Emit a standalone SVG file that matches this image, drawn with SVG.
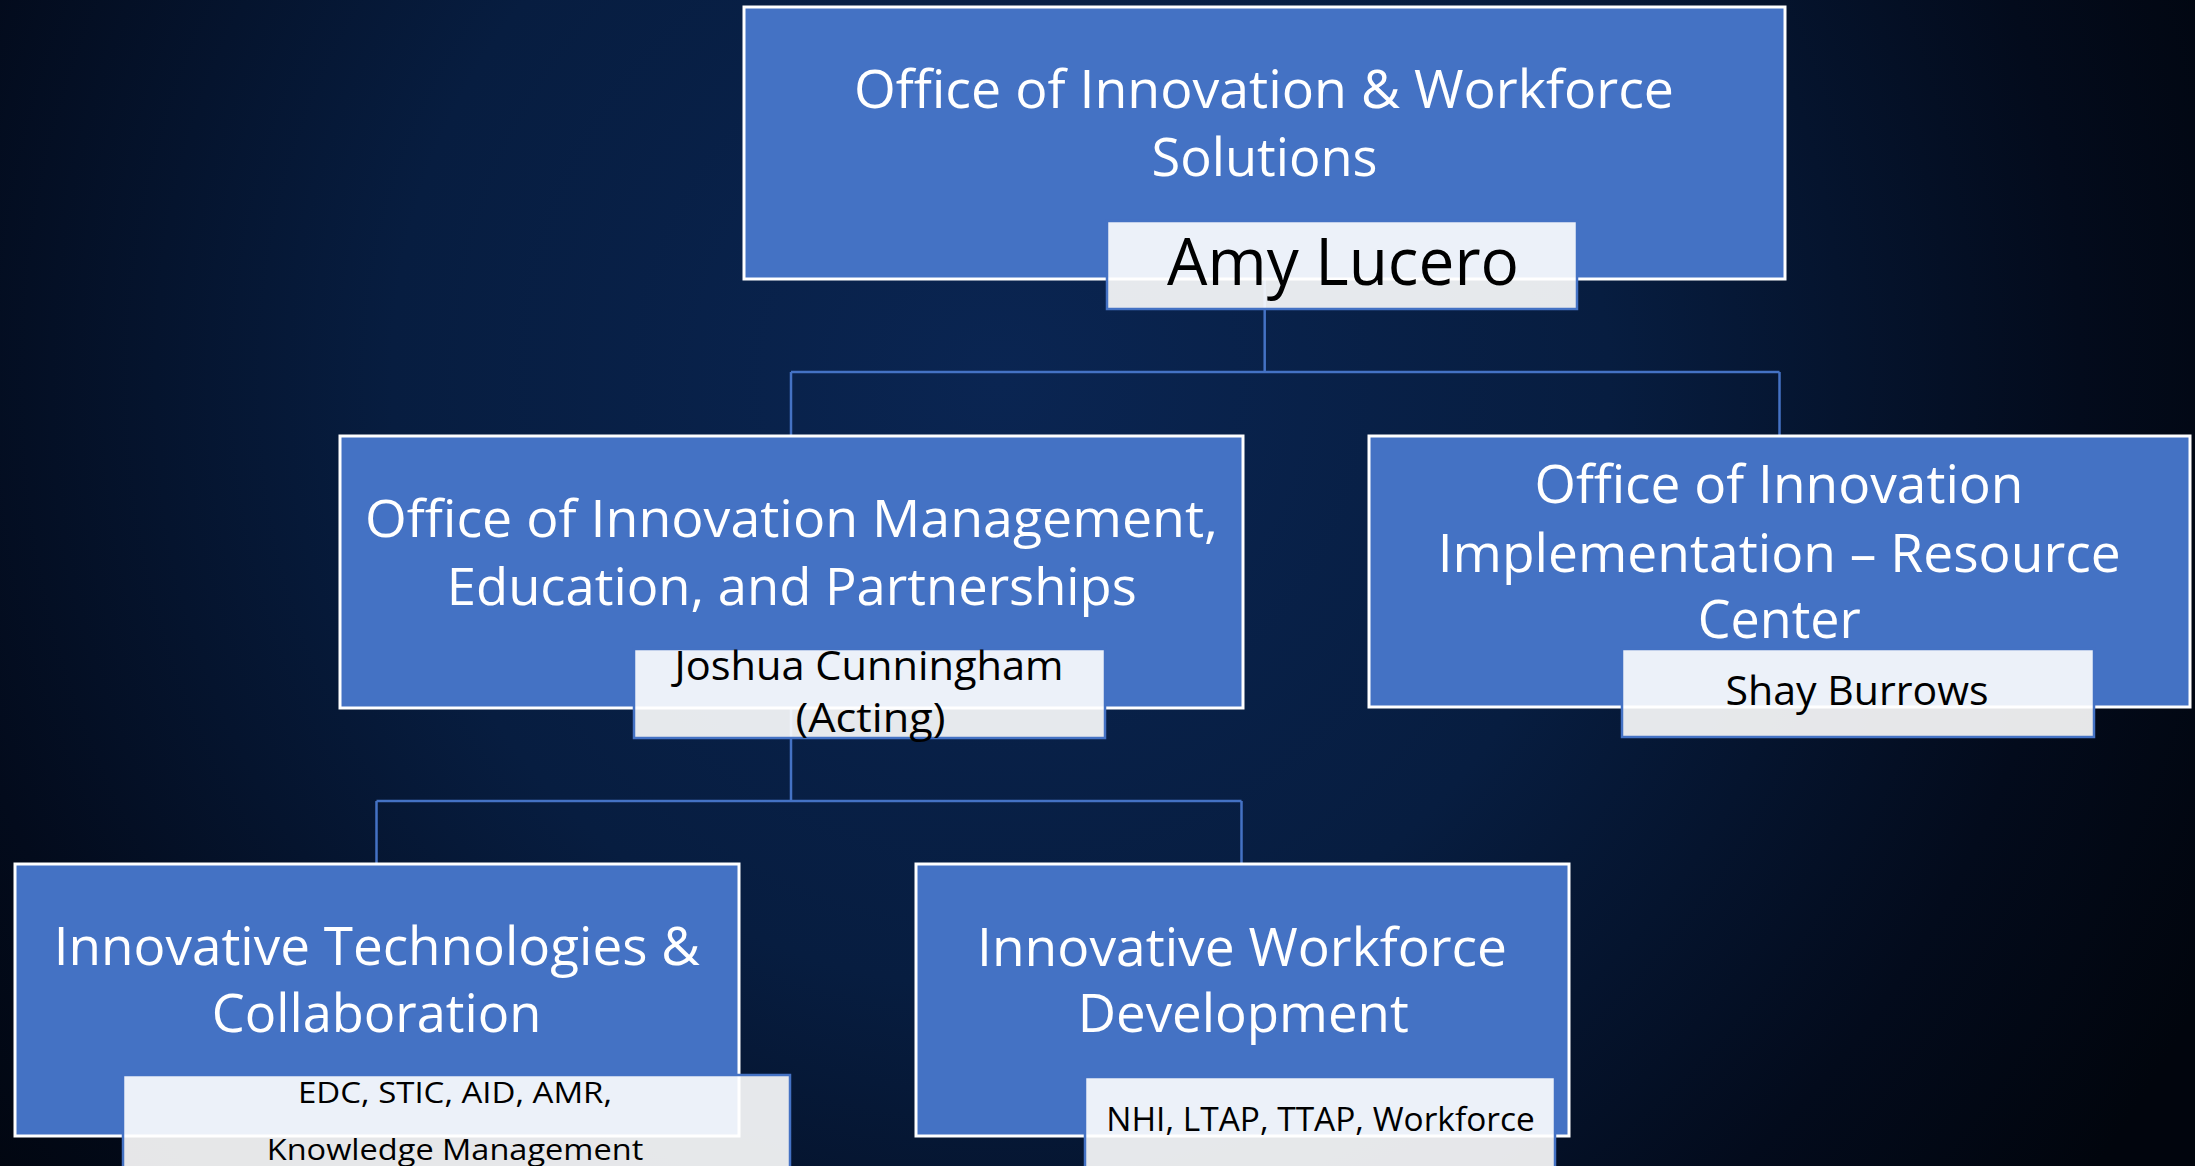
<svg xmlns="http://www.w3.org/2000/svg" width="2195" height="1166" viewBox="0 0 2195 1166">
<defs>
<radialGradient id="bg" cx="1000" cy="380" r="1350" gradientUnits="userSpaceOnUse">
<stop offset="0" stop-color="#0a2552"/>
<stop offset="0.45" stop-color="#071d40"/>
<stop offset="0.8" stop-color="#030b1c"/>
<stop offset="1" stop-color="#01050d"/>
</radialGradient>
<style>
.box{fill:#4472C4;stroke:#ffffff;stroke-width:3}
.lbl{fill:#ffffff;fill-opacity:0.9;stroke:#4472C4;stroke-width:2.5}
.t{font-family:"Open Sans","Noto Sans","Liberation Sans",sans-serif;fill:#ffffff;text-anchor:middle}
.n{font-family:"Open Sans","Noto Sans","Liberation Sans",sans-serif;fill:#000000;text-anchor:middle}
.con{fill:none;stroke:#4472C4;stroke-width:2.5}
</style>
</defs>
<rect x="0" y="0" width="2195" height="1166" fill="url(#bg)"/>
<g id="connectors">
<path class="con" d="M1264.7 279 V372 M791 372 H1779.5 M791 372 V436 M1779.5 372 V436"/>
<path class="con" d="M791 708 V801 M376.5 801 H1241.5 M376.5 801 V864 M1241.5 801 V864"/>
</g>
<g id="node-top">
<rect class="box" x="744" y="7" width="1041" height="272"/>
<text class="t" font-size="53" x="1264" y="108" textLength="820" lengthAdjust="spacingAndGlyphs">Office of Innovation &amp; Workforce</text>
<text class="t" font-size="53" x="1264.5" y="176" textLength="226" lengthAdjust="spacingAndGlyphs">Solutions</text>
<rect class="lbl" x="1107" y="221" width="470" height="88"/>
<text class="n" font-size="66" x="1343" y="285" textLength="352" lengthAdjust="spacingAndGlyphs">Amy Lucero</text>
</g>
<g id="node-mid-left">
<rect class="box" x="340" y="436" width="903" height="272"/>
<text class="t" font-size="51" x="791.5" y="537" textLength="853" lengthAdjust="spacingAndGlyphs">Office of Innovation Management,</text>
<text class="t" font-size="51" x="791.8" y="605" textLength="690" lengthAdjust="spacingAndGlyphs">Education, and Partnerships</text>
<rect class="lbl" x="634" y="649" width="471" height="89"/>
<text class="n" font-size="39.5" x="869" y="680" textLength="389" lengthAdjust="spacingAndGlyphs">Joshua Cunningham</text>
<text class="n" font-size="39.5" x="870.5" y="731.7" textLength="150" lengthAdjust="spacingAndGlyphs">(Acting)</text>
</g>
<g id="node-mid-right">
<rect class="box" x="1369" y="436" width="821" height="271"/>
<text class="t" font-size="53" x="1779" y="503.3" textLength="489" lengthAdjust="spacingAndGlyphs">Office of Innovation</text>
<text class="t" font-size="53" x="1779.2" y="571.7" textLength="683" lengthAdjust="spacingAndGlyphs">Implementation – Resource</text>
<text class="t" font-size="53" x="1779.3" y="638.3" textLength="163" lengthAdjust="spacingAndGlyphs">Center</text>
<rect class="lbl" x="1622" y="649" width="472" height="88"/>
<text class="n" font-size="39.5" x="1857" y="705" textLength="263" lengthAdjust="spacingAndGlyphs">Shay Burrows</text>
</g>
<g id="node-bottom-left">
<rect class="box" x="15" y="864" width="724" height="272"/>
<text class="t" font-size="53" x="376.8" y="965" textLength="646" lengthAdjust="spacingAndGlyphs">Innovative Technologies &amp;</text>
<text class="t" font-size="53" x="376.6" y="1032.3" textLength="329.5" lengthAdjust="spacingAndGlyphs">Collaboration</text>
<rect class="lbl" x="123" y="1075" width="667" height="100"/>
<text class="n" font-size="29.5" x="455" y="1102.7" textLength="314" lengthAdjust="spacingAndGlyphs">EDC, STIC, AID, AMR,</text>
<text class="n" font-size="30" x="455" y="1159.5" textLength="376.5" lengthAdjust="spacingAndGlyphs">Knowledge Management</text>
</g>
<g id="node-bottom-right">
<rect class="box" x="916" y="864" width="653" height="272"/>
<text class="t" font-size="53" x="1242" y="965.7" textLength="530" lengthAdjust="spacingAndGlyphs">Innovative Workforce</text>
<text class="t" font-size="53" x="1243.3" y="1032" textLength="331" lengthAdjust="spacingAndGlyphs">Development</text>
<rect class="lbl" x="1085" y="1077" width="470" height="100"/>
<text class="n" font-size="32" x="1320.5" y="1131" textLength="428.5" lengthAdjust="spacingAndGlyphs">NHI, LTAP, TTAP, Workforce</text>
</g>
</svg>
